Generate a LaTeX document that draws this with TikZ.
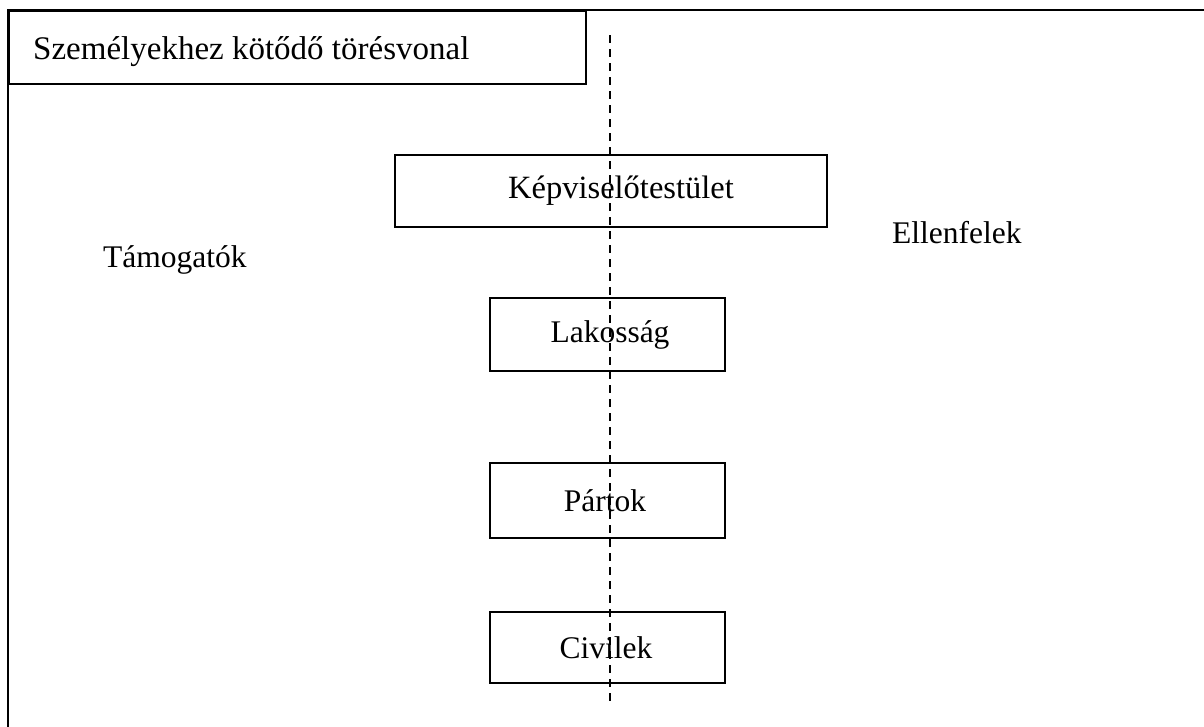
\documentclass[tikz,border=0pt]{standalone}
\usepackage{fontspec}
\setmainfont{Liberation Serif}
\begin{document}
\begin{tikzpicture}[x=1pt,y=-1pt,
  every node/.style={font=\fontsize{31.5}{38}\selectfont},
  box/.style={draw, line width=2.3pt, rectangle, inner sep=0pt},
  plain/.style={inner sep=0pt},
  divider/.style={line width=2.6pt, dash pattern=on 8pt off 6pt}]
\useasboundingbox (0,0) rectangle (1204,726);
% outer frame (only top and left edges visible)
\draw[line width=2.6pt] (8,730) -- (8,10) -- (1210,10);
% title box
\node[box, minimum width=577pt, minimum height=73pt, anchor=north west] (title) at (8,10) {};
\node[plain, anchor=base west, font=\fontsize{33}{40}\selectfont] (titletext) at (33,59) {Személyekhez kötődő törésvonal};
% boxes
\node[box, minimum width=432pt, minimum height=72pt] (kep) at (611,191) {};
\node[plain, font=\fontsize{32.5}{39}\selectfont] (keptext) at (621,191) {Képviselőtestület};
\node[box, minimum width=235pt, minimum height=73pt] (lak) at (607.5,334.5) {};
\node[plain] (laktext) at (610,334.5) {Lakosság};
\node[box, minimum width=235pt, minimum height=75pt] (part) at (607.5,500.5) {};
\node[plain] (parttext) at (605,500.5) {Pártok};
\node[box, minimum width=235pt, minimum height=71pt] (civ) at (607.5,647.5) {};
\node[plain] (civtext) at (606,647.5) {Civilek};
% side labels
\node[plain, anchor=base west] (tam) at (103,267) {Támogatók};
\node[plain, anchor=base west] (ell) at (892,243) {Ellenfelek};
% dashed divider
\coordinate (dtop) at (610,35);
\coordinate (dbot) at (610,705);
\draw[divider] (dtop) -- (dbot);
\end{tikzpicture}
\end{document}
